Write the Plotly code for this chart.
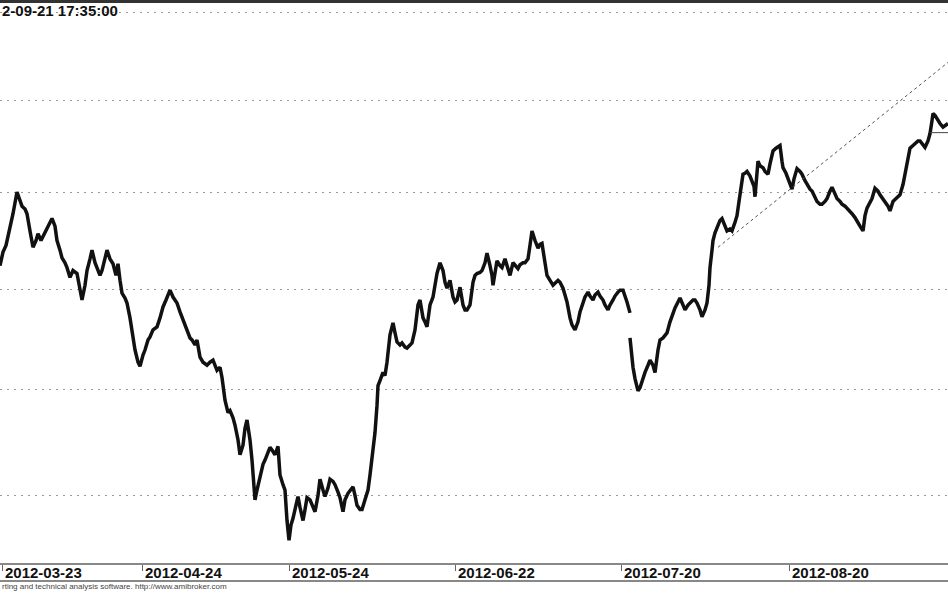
import plotly.graph_objects as go

# bar number (chart bar index) and close
bar = [
    0, 3, 6, 10, 13, 17, 20, 22, 25, 27, 30, 33, 36, 38, 41, 43, 47, 50, 52, 55,
    57, 60, 62, 65, 67, 70, 73, 77, 80, 82, 85, 87, 90, 92, 95, 97, 100, 102, 105, 107,
    110, 113, 116, 118, 120, 122, 125, 127, 130, 132, 135, 138, 140, 143, 145, 148, 150, 153, 157, 160,
    163, 166, 170, 173, 177, 180, 182, 185, 187, 190, 192, 195, 197, 200, 203, 207, 210, 213, 217, 220,
    222, 225, 228, 230, 233, 235, 238, 240, 243, 245, 247, 250, 252, 255, 257, 260, 263, 265, 268, 270,
    273, 275, 278, 280, 283, 285, 287, 289, 291, 293, 296, 298, 300, 303, 305, 307, 310, 312, 315, 318,
    320, 323, 325, 328, 330, 333, 335, 338, 340, 343, 345, 348, 350, 353, 355, 357, 360, 362, 365, 368,
    370, 372, 375, 377, 378, 380, 383, 385, 387, 390, 393, 395, 397, 400, 402, 405, 407, 410, 412, 415,
    418, 420, 423, 425, 427, 430, 433, 435, 437, 440, 443, 445, 447, 450, 453, 455, 457, 460, 463, 465,
    467, 470, 473, 475, 477, 480, 482, 485, 487, 490, 492, 493, 495, 497, 500, 502, 505, 507, 510, 513,
    515, 518, 520, 523, 525, 528, 530, 532, 535, 538, 540, 542, 545, 547, 550, 553, 555, 558, 560, 563,
    565, 567, 570, 572, 575, 578, 580, 583, 585, 588, 590, 593, 595, 598, 600, 603, 605, 608, 610, 613,
    615, 618, 620, 623, 625, 627, 630, 630, 630, 632, 633, 635, 638, 640, 643, 645, 648, 650, 653, 655,
    658, 660, 663, 665, 667, 670, 673, 675, 678, 680, 683, 685, 688, 690, 693, 695, 697, 700, 702, 705,
    707, 709, 710, 712, 713, 715, 717, 720, 722, 725, 727, 730, 732, 735, 737, 739, 740, 742, 743, 745,
    747, 750, 752, 754, 755, 757, 758, 760, 763, 765, 768, 770, 773, 776, 778, 780, 782, 783, 786, 788,
    790, 792, 794, 797, 800, 802, 805, 807, 810, 812, 815, 817, 820, 822, 825, 827, 830, 832, 835, 837,
    840, 842, 845, 847, 850, 852, 855, 857, 860, 863, 865, 867, 870, 872, 875, 878, 880, 883, 885, 888,
    890, 893, 895, 898, 900, 903, 905, 907, 910, 913, 915, 918, 920, 923, 925, 928, 930, 932, 933, 935,
    938, 940, 943, 945, 948,
]
close = [
    2224, 2238, 2245, 2262, 2278, 2301, 2293, 2286, 2283, 2278, 2260, 2243, 2250, 2257, 2250, 2254, 2263, 2269, 2273, 2265,
    2250, 2240, 2232, 2227, 2222, 2212, 2219, 2216, 2199, 2189, 2204, 2219, 2231, 2240, 2227, 2222, 2214, 2219, 2231, 2240,
    2231, 2226, 2214, 2226, 2209, 2196, 2191, 2186, 2171, 2159, 2139, 2127, 2123, 2134, 2139, 2149, 2152, 2159, 2162, 2171,
    2182, 2189, 2199, 2192, 2186, 2177, 2172, 2164, 2159, 2151, 2149, 2144, 2149, 2132, 2127, 2124, 2127, 2129, 2119, 2122,
    2112, 2090, 2078, 2080, 2073, 2066, 2052, 2038, 2047, 2063, 2071, 2052, 2033, 1996, 2005, 2019, 2029, 2033, 2041, 2045,
    2041, 2038, 2046, 2019, 2010, 2005, 1977, 1959, 1973, 1979, 1991, 1999, 1989, 1977, 1987, 1998, 1996, 1991, 1985, 2000,
    2015, 2005, 1999, 2007, 2015, 2013, 2010, 2003, 1998, 1985, 1996, 2002, 2005, 2008, 2000, 1991, 1987, 1987, 1996, 2005,
    2019, 2033, 2059, 2085, 2104, 2109, 2117, 2114, 2127, 2154, 2166, 2156, 2147, 2144, 2146, 2142, 2141, 2144, 2146, 2159,
    2184, 2189, 2171, 2167, 2162, 2184, 2192, 2204, 2216, 2227, 2219, 2207, 2201, 2209, 2192, 2187, 2189, 2202, 2184, 2179,
    2179, 2184, 2207, 2214, 2216, 2217, 2219, 2227, 2237, 2224, 2214, 2204, 2219, 2229, 2224, 2222, 2231, 2224, 2214, 2227,
    2224, 2221, 2225, 2227, 2227, 2231, 2245, 2260, 2250, 2242, 2246, 2247, 2227, 2214, 2209, 2204, 2206, 2209, 2207, 2201,
    2194, 2187, 2171, 2164, 2159, 2167, 2177, 2186, 2192, 2197, 2193, 2189, 2194, 2197, 2193, 2189, 2184, 2179, 2184, 2189,
    2193, 2197, 2199, 2199, 2194, 2187, 2176, None, 2151, 2131, 2122, 2111, 2099, 2102, 2112, 2117, 2124, 2129, 2124, 2117,
    2139, 2149, 2151, 2154, 2156, 2167, 2176, 2181, 2187, 2191, 2184, 2179, 2184, 2186, 2189, 2189, 2186, 2179, 2172, 2179,
    2186, 2204, 2222, 2240, 2250, 2258, 2263, 2271, 2273, 2265, 2260, 2262, 2260, 2269, 2276, 2291, 2298, 2313, 2320, 2321,
    2323, 2318, 2313, 2307, 2296, 2323, 2334, 2329, 2327, 2323, 2320, 2331, 2345, 2348, 2350, 2351, 2334, 2327, 2321, 2316,
    2309, 2304, 2315, 2326, 2323, 2320, 2313, 2309, 2304, 2302, 2296, 2291, 2288, 2288, 2291, 2294, 2302, 2306, 2299, 2294,
    2291, 2288, 2286, 2284, 2281, 2278, 2274, 2271, 2265, 2260, 2276, 2284, 2291, 2294, 2305, 2302, 2298, 2294, 2291, 2286,
    2281, 2291, 2293, 2296, 2298, 2309, 2321, 2334, 2348, 2351, 2353, 2356, 2356, 2351, 2349, 2356, 2364, 2378, 2386, 2384,
    2378, 2375, 2371, 2373, 2375,
]

# dashed trend line (start / end) and last-price marker line
trend_bar = [718, 948]
trend_price = [2243, 2443]
level_bar = [930, 948]
level_price = [2365, 2365]

grid_levels = [2000, 2100, 2200, 2300, 2400, 2500]
tick_bars = [2, 142, 289, 455, 621, 789]
tick_labels = ["2012-03-23", "2012-04-24", "2012-05-24", "2012-06-22", "2012-07-20", "2012-08-20"]

FONT = "Liberation Sans, Arial, sans-serif"
TOP, BOTTOM = 3, 30
PLOT_H = 593 - TOP - BOTTOM


def py(px):
    """pixel offset below the plot top -> paper y"""
    return 1 - px / PLOT_H


fig = go.Figure()
fig.add_trace(go.Scatter(
    x=bar, y=close, mode="lines", connectgaps=False,
    line=dict(color="#111111", width=3.5), hoverinfo="skip",
))
fig.add_trace(go.Scatter(
    x=trend_bar, y=trend_price, mode="lines",
    line=dict(color="#555555", width=1, dash="3px,3px"), hoverinfo="skip",
))
fig.add_trace(go.Scatter(
    x=level_bar, y=level_price, mode="lines",
    line=dict(color="#444444", width=1), hoverinfo="skip",
))

annotations = [
    dict(x=0, y=py(8), xref="paper", yref="paper", xanchor="left", yanchor="middle",
         text="<b>2-09-21 17:35:00</b>", showarrow=False,
         font=dict(family=FONT, size=15, color="#111111")),
    dict(x=0, y=py(583), xref="paper", yref="paper", xanchor="left", yanchor="middle",
         text="rting and technical analysis software. http://www.amibroker.com", showarrow=False,
         font=dict(family=FONT, size=8, color="#444444")),
]
for b, lab in zip(tick_bars, tick_labels):
    annotations.append(dict(
        x=b, y=py(569), xref="x", yref="paper", xanchor="left", yanchor="middle",
        xshift=1, text="<b>" + lab + "</b>", showarrow=False,
        font=dict(family=FONT, size=15, color="#111111"),
    ))

shapes = [
    dict(type="line", xref="paper", yref="paper", x0=0, x1=1, y0=py(-1.5), y1=py(-1.5),
         line=dict(color="#333333", width=3)),
    dict(type="line", xref="paper", yref="paper", x0=0, x1=1, y0=py(578), y1=py(578),
         line=dict(color="#888888", width=2)),
]

fig.update_layout(
    width=948, height=593,
    margin=dict(l=0, r=0, t=TOP, b=BOTTOM),
    paper_bgcolor="white", plot_bgcolor="white",
    showlegend=False, hovermode=False,
    xaxis=dict(
        range=[0, 948], tickvals=tick_bars, ticktext=[""] * len(tick_bars),
        ticks="outside", ticklen=6, tickcolor="#666666", showgrid=False, zeroline=False,
        showline=True, linecolor="#888888", linewidth=2,
    ),
    yaxis=dict(
        type="log", range=[3.28748, 3.39984], tickvals=grid_levels, showticklabels=False,
        showgrid=True, gridcolor="#999999", gridwidth=1, griddash="2px,5px", zeroline=False,
    ),
    annotations=annotations,
    shapes=shapes,
)

# the page body has a default 8px margin; drop it so the chart sits flush
fig.write_html("out.html", config={"displayModeBar": False},
               post_script="document.body.style.margin='0';")
